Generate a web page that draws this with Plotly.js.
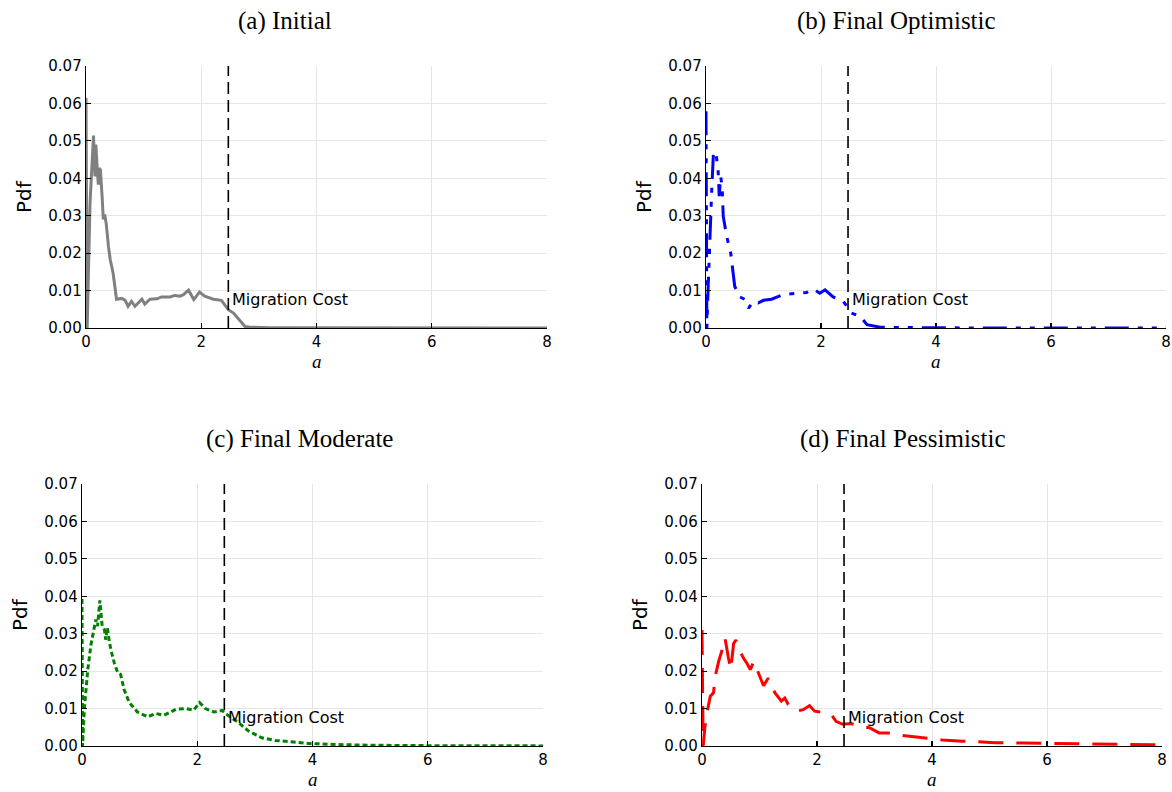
<!DOCTYPE html>
<html>
<head>
<meta charset="utf-8">
<script src="https://cdn.plot.ly/plotly-3.0.1.min.js"></script>
<style>
    html, body { margin: 0; padding: 0; background: #fff; }
    #graph { width: 1172px; height: 792px; }
</style>
</head>
<body>
<div id="graph"></div>
<script>
// values
const migrationCost = 2.47;

const initialX = [0, 0.02, 0.07, 0.116, 0.13, 0.156, 0.17, 0.2, 0.214, 0.23, 0.25, 0.28, 0.3, 0.324, 0.35, 0.39, 0.42, 0.47, 0.53, 0.62, 0.68, 0.73, 0.79, 0.85, 0.91, 0.97, 1.02, 1.11, 1.23, 1.31, 1.46, 1.54, 1.63, 1.69, 1.78, 1.87, 1.97, 2.06, 2.21, 2.35, 2.47, 2.56, 2.76, 2.85, 3.2, 4, 5, 6, 7, 8];
const initialY = [0.0615, 0.0, 0.0334, 0.0508, 0.0514, 0.0405, 0.049, 0.0414, 0.0383, 0.0427, 0.0423, 0.035, 0.029, 0.0303, 0.028, 0.0218, 0.0183, 0.0147, 0.0077, 0.0079, 0.0074, 0.0058, 0.0071, 0.0058, 0.0068, 0.0077, 0.0064, 0.0077, 0.0078, 0.0083, 0.0083, 0.0087, 0.0085, 0.0089, 0.0101, 0.0076, 0.0096, 0.0085, 0.0077, 0.0074, 0.0049, 0.004, 0.0004, 0.0002, 0.0001, 0.00005, 0, 0, 0, 0];

const optimisticX = [0, 0.015, 0.04, 0.07, 0.1, 0.128, 0.156, 0.18, 0.21, 0.23, 0.255, 0.28, 0.3, 0.36, 0.43, 0.5, 0.59, 0.68, 0.74, 0.82, 0.91, 1.0, 1.14, 1.34, 1.58, 1.67, 1.75, 1.87, 1.98, 2.07, 2.21, 2.39, 2.53, 2.68, 2.8, 3.03, 3.5, 4, 5, 6, 7, 8];
const optimisticY = [0.0579, 0.0, 0.012, 0.028, 0.037, 0.0463, 0.045, 0.0459, 0.0423, 0.0352, 0.0405, 0.0378, 0.0298, 0.0245, 0.02, 0.0111, 0.0083, 0.0076, 0.0053, 0.0071, 0.0067, 0.0074, 0.0077, 0.0089, 0.0092, 0.0093, 0.0095, 0.0104, 0.0093, 0.0102, 0.0083, 0.0071, 0.004, 0.0031, 0.0009, 0.0002, 0.0001, 0.00005, 0, 0, 0, 0];

const moderateX = [0, 0.01, 0.04, 0.1, 0.156, 0.21, 0.24, 0.27, 0.31, 0.35, 0.39, 0.41, 0.44, 0.47, 0.5, 0.56, 0.62, 0.67, 0.73, 0.82, 0.96, 1.14, 1.28, 1.42, 1.63, 1.8, 1.94, 2.04, 2.14, 2.29, 2.43, 2.55, 2.72, 2.89, 3.12, 3.35, 3.64, 3.93, 4.39, 5, 6, 7, 8];
const moderateY = [0.0393, 0.0, 0.0098, 0.0204, 0.0271, 0.0311, 0.0338, 0.032, 0.0389, 0.032, 0.0311, 0.0284, 0.0316, 0.0284, 0.0258, 0.0222, 0.0196, 0.0191, 0.0151, 0.0116, 0.0091, 0.0078, 0.0087, 0.0082, 0.0098, 0.01, 0.0096, 0.0116, 0.01, 0.0091, 0.0095, 0.008, 0.0062, 0.004, 0.0022, 0.0015, 0.0011, 0.0007, 0.0004, 0.0002, 0.0001, 0.00005, 0.00003];

const pessimisticX = [0, 0.02, 0.05, 0.086, 0.144, 0.2, 0.23, 0.29, 0.35, 0.4, 0.46, 0.5, 0.55, 0.59, 0.65, 0.72, 0.78, 0.84, 0.9, 0.98, 1.07, 1.15, 1.27, 1.38, 1.44, 1.5, 1.64, 1.76, 1.87, 1.96, 2.1, 2.25, 2.33, 2.45, 2.59, 2.74, 2.91, 3.08, 3.23, 3.49, 3.83, 4.18, 4.52, 4.81, 5.1, 5.6, 6, 6.5, 7, 7.5, 8];
const pessimisticY = [0.031, 0.0, 0.005, 0.0088, 0.0133, 0.0142, 0.0186, 0.0226, 0.0257, 0.0288, 0.0235, 0.0204, 0.0274, 0.0283, 0.0257, 0.0235, 0.0221, 0.0204, 0.0226, 0.0195, 0.0161, 0.0181, 0.0142, 0.012, 0.0128, 0.0111, 0.0093, 0.0097, 0.0108, 0.0093, 0.009, 0.0084, 0.0066, 0.0058, 0.006, 0.0053, 0.0049, 0.0035, 0.0035, 0.0028, 0.0022, 0.0016, 0.0013, 0.0011, 0.0009, 0.0008, 0.0007, 0.0005, 0.0004, 0.0003, 0.0003];

const panelTitles = ["(a) Initial", "(b) Final Optimistic", "(c) Final Moderate", "(d) Final Pessimistic"];
const xTicks = [0, 2, 4, 6, 8];
const yTicks = [0, 0.01, 0.02, 0.03, 0.04, 0.05, 0.06, 0.07];

const W = 1172, H = 792;

// plot boxes in pixels: left, right, top, bottom
const boxes = [
    [86, 547, 66, 328],
    [706, 1166, 66, 328],
    [82, 543, 484, 746],
    [702, 1162, 484, 746],
];
const titleCenters = [285, 896, 299, 903];

const series = [
    { x: initialX, y: initialY, color: 'gray', dash: 'solid', width: 3 },
    { x: optimisticX, y: optimisticY, color: 'blue', dash: '24px,9px,5px,9px,5px,9px', width: 3 },
    { x: moderateX, y: moderateY, color: 'green', dash: '5px,3px', width: 3 },
    { x: pessimisticX, y: pessimisticY, color: 'red', dash: '25px,13px', width: 3 },
];

function px(x) { return x / W; }
function py(y) { return 1 - y / H; }

var traces = [];
var annotations = [];
var layout = {
    width: W,
    height: H,
    margin: { l: 0, r: 0, t: 0, b: 0 },
    paper_bgcolor: '#fff',
    plot_bgcolor: '#fff',
    showlegend: false,
    font: { family: 'DejaVu Sans', color: '#000' },
};

for (var i = 0; i < 4; i++) {
    var n = i + 1;
    var xa = 'x' + (i === 0 ? '' : n);
    var ya = 'y' + (i === 0 ? '' : n);
    var b = boxes[i];
    var s = series[i];

    traces.push({
        x: s.x, y: s.y, xaxis: xa, yaxis: ya,
        mode: 'lines',
        line: { color: s.color, width: s.width, dash: s.dash },
        hoverinfo: 'skip',
    });
    // migration cost marker
    traces.push({
        x: [migrationCost, migrationCost], y: [0, 0.07], xaxis: xa, yaxis: ya,
        mode: 'lines',
        line: { color: 'black', width: 1.6, dash: '12px,6px' },
        hoverinfo: 'skip',
    });

    layout['xaxis' + (i === 0 ? '' : n)] = {
        domain: [px(b[0]), px(b[1])],
        anchor: ya,
        range: [0, 8],
        tickvals: xTicks,
        ticktext: xTicks.map(String),
        ticks: 'inside', ticklen: 5, tickcolor: '#000', tickwidth: 1.2,
        showline: true, linecolor: '#000', linewidth: 1.3,
        showgrid: true, gridcolor: '#e6e6e6', gridwidth: 1,
        zeroline: false,
        tickfont: { family: 'DejaVu Sans', size: 15, color: '#000' },
        fixedrange: true,
    };
    layout['yaxis' + (i === 0 ? '' : n)] = {
        domain: [py(b[3]), py(b[2])],
        anchor: xa,
        range: [0, 0.07],
        tickvals: yTicks,
        ticktext: yTicks.map(function (v) { return v.toFixed(2); }),
        ticks: 'inside', ticklen: 5, tickcolor: '#000', tickwidth: 1.2,
        showline: true, linecolor: '#000', linewidth: 1.3,
        showgrid: true, gridcolor: '#e6e6e6', gridwidth: 1,
        zeroline: false,
        tickfont: { family: 'DejaVu Sans', size: 15, color: '#000' },
        fixedrange: true,
    };

    // panel title
    annotations.push({
        xref: 'paper', yref: 'paper',
        x: px(titleCenters[i]), y: py(b[2] - 45),
        text: panelTitles[i], showarrow: false,
        xanchor: 'center', yanchor: 'middle',
        font: { family: 'Liberation Serif', size: 25, color: '#000' },
    });
    // y label
    annotations.push({
        xref: 'paper', yref: 'paper',
        x: px(b[0] - 62), y: py((b[2] + b[3]) / 2),
        text: 'Pdf', showarrow: false, textangle: -90,
        xanchor: 'center', yanchor: 'middle',
        font: { family: 'DejaVu Sans', size: 20, color: '#000' },
    });
    // x label
    annotations.push({
        xref: 'paper', yref: 'paper',
        x: px((b[0] + b[1]) / 2), y: py(b[3] + 33),
        text: '<i>a</i>', showarrow: false,
        xanchor: 'center', yanchor: 'middle',
        font: { family: 'Liberation Serif', size: 19, color: '#000' },
    });
    // migration cost label
    annotations.push({
        xref: xa, yref: ya,
        x: migrationCost, y: 0.0075,
        xshift: 2,
        text: 'Migration Cost', showarrow: false,
        xanchor: 'left', yanchor: 'middle',
        font: { family: 'DejaVu Sans', size: 16, color: '#000' },
    });
}

layout.annotations = annotations;

Plotly.newPlot('graph', traces, layout, { displayModeBar: false, staticPlot: true });
</script>
</body>
</html>
